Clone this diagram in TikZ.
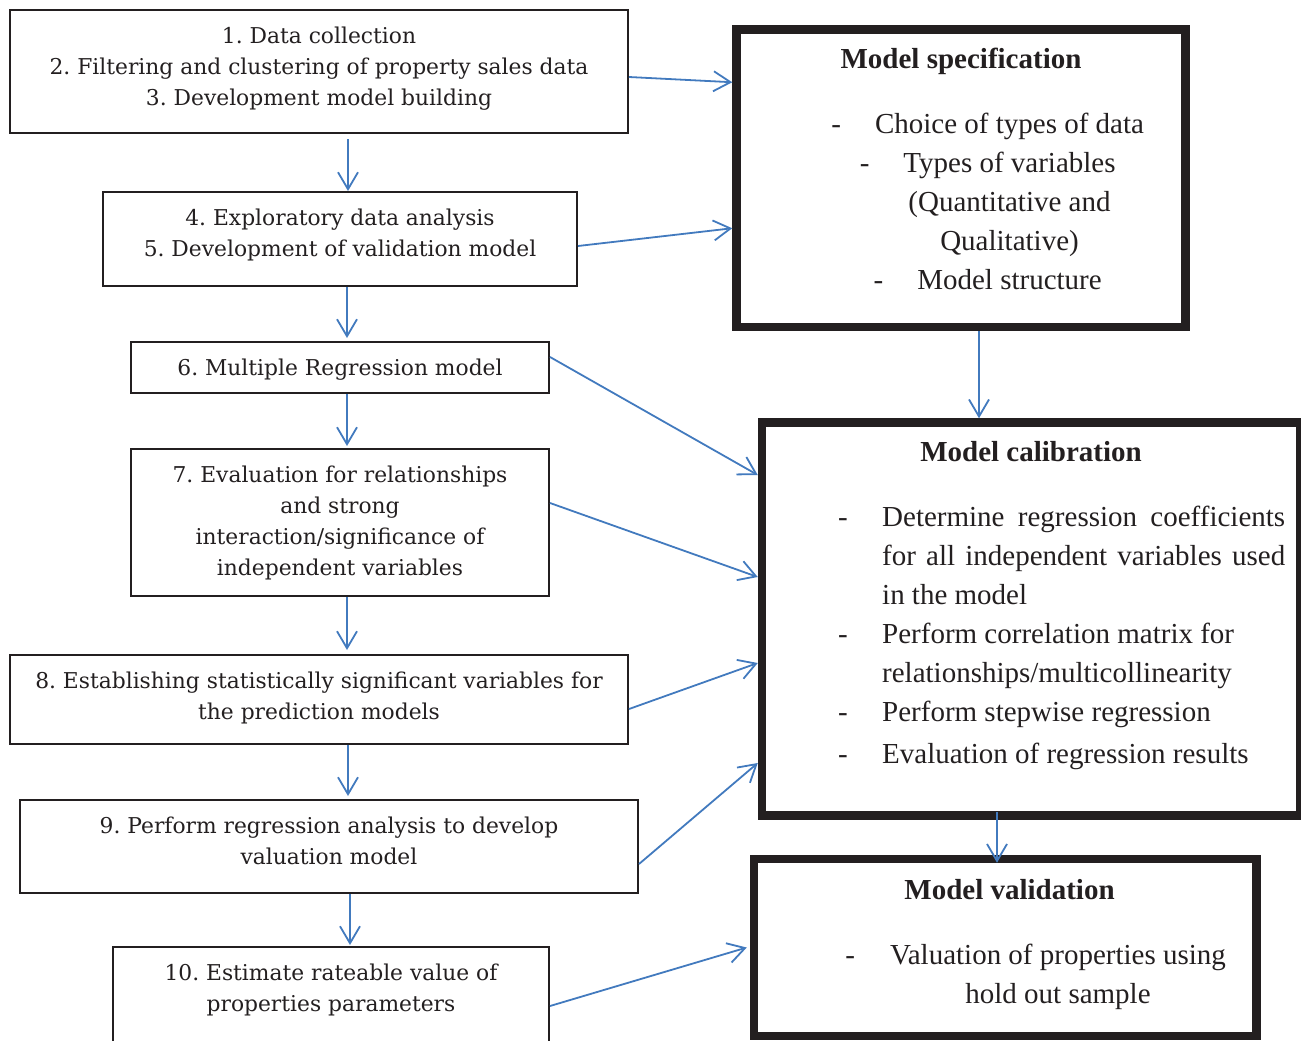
\documentclass[tikz,border=0pt]{standalone}
\usepackage{fontspec}
\newfontfamily\timesfont{Liberation Serif}
\newfontfamily\stepfont{DejaVu Serif}
\usetikzlibrary{arrows.meta}
\definecolor{flowblue}{RGB}{66,122,190}
\definecolor{inkblack}{RGB}{35,31,32}
\tikzset{
    stepframe/.style={
        rectangle, draw=inkblack, line width=2pt, inner sep=0pt
    },
    steptext/.style={
        anchor=north, align=center, inner xsep=0pt, inner ysep=18pt,
        text=inkblack, font=\stepfont\frenchspacing\fontsize{21.8}{31}\selectfont
    },
    model/.style={
        rectangle, draw=inkblack, line width=8.5pt, inner sep=0pt
    },
    modeltitle/.style={
        anchor=base, inner sep=0pt, text=inkblack,
        font=\timesfont\bfseries\fontsize{29}{39}\selectfont
    },
    modeltext/.style={
        inner sep=0pt, text=inkblack,
        font=\timesfont\fontsize{29}{39}\selectfont
    },
    mm/.style={
        -{Straight Barb[length=17pt, width=20pt]}, draw=flowblue, line width=1.8pt
    }
}

\begin{document}
\begin{tikzpicture}[x=1pt, y=-1pt]
        \useasboundingbox (0,0) rectangle (1301,1041);
        \clip (0,0) rectangle (1301,1041);

        % Process steps

        \node[stepframe, minimum width=618pt, minimum height=123pt] (b1) at (319,71.5)  {};
        \node[stepframe, minimum width=474pt, minimum height=94pt]  (b2) at (340,239)   {};
        \node[stepframe, minimum width=418pt, minimum height=51pt]  (b3) at (340,367.5) {};
        \node[stepframe, minimum width=418pt, minimum height=147pt] (b4) at (340,522.5) {};
        \node[stepframe, minimum width=618pt, minimum height=89pt]  (b5) at (319,699.5) {};
        \node[stepframe, minimum width=618pt, minimum height=93pt]  (b6) at (329,846.5) {};
        \node[stepframe, minimum width=436pt, minimum height=96pt]  (b7) at (331,995)   {};

        \node[steptext] (t1) at (b1.north) {1. Data collection\\2. Filtering and clustering of property sales data\\3. Development model building};
        \node[steptext] (t2) at (b2.north) {4. Exploratory data analysis\\5. Development of validation model};
        \node[steptext] (t3) at (b3.north) {6. Multiple Regression model};
        \node[steptext] (t4) at (b4.north) {7. Evaluation for relationships\\and strong\\interaction/significance of\\independent variables};
        \node[steptext] (t5) at (b5.north) {8. Establishing statistically significant variables for\\the prediction models};
        \node[steptext] (t6) at (b6.north) {9. Perform regression analysis to develop\\valuation model};
        \node[steptext] (t7) at (b7.north) {10. Estimate rateable value of\\properties parameters};

        \path ([xshift=29pt]b1.south) edge[mm, shorten <=5pt] ([xshift=8pt]b2.north)
                ([xshift=7pt]b2.south) edge[mm, shorten >=3pt] ([xshift=7pt]b3.north)
                ([xshift=7pt]b3.south) edge[mm, shorten >=2pt] ([xshift=7pt]b4.north)
                ([xshift=7pt]b4.south) edge[mm, shorten >=4pt] ([xshift=28pt]b5.north)
                ([xshift=29pt]b5.south) edge[mm, shorten >=3pt] ([xshift=19pt]b6.north)
                ([xshift=21pt]b6.south) edge[mm, shorten >=1pt] ([xshift=19pt]b7.north);

        % Model specification

        \node[model, minimum width=449pt, minimum height=297.5pt] (spec) at (961,178.25) {};
        \node[modeltitle] (spectitle) at (961,68.6) {Model specification};
        \node[modeltext, anchor=north, align=center] (specitems) at (1009.5,112.4)
            {\llap{-\hspace{34pt}}Choice of types of data\\\llap{-\hspace{34pt}}Types of variables\\(Quantitative and\\Qualitative)\\\llap{-\hspace{34pt}}Model structure};

        % Model calibration

        \node[model, minimum width=538pt, minimum height=393pt] (calib) at (1031,619) {};
        \node[modeltitle] (calibtitle) at (1031,461.6) {Model calibration};
        \node[modeltext, anchor=north west] (calibitems) at (838,499)
            {\hyphenpenalty=10000 \tolerance=9999
             \begin{tabular}{@{}p{44pt}@{}p{403pt}@{}}
             - & Determine regression coefficients\linebreak for all independent variables used\linebreak in the model\\
             - & Perform correlation matrix for\newline relationships/multicollinearity\\
             - & Perform stepwise regression\\[3pt]
             - & Evaluation of regression results
             \end{tabular}};

        % Model validation

        \node[model, minimum width=502.5pt, minimum height=177pt] (valid) at (1005.25,947.5) {};
        \node[modeltitle] (validtitle) at (1009.5,899.6) {Model validation};
        \node[modeltext, anchor=north, align=center] (validitems) at (1058,943.4)
            {\llap{-\hspace{35pt}}Valuation of properties using\\hold out sample};

        % Steps feeding the model stages

        \path ([yshift=-5.5pt]b1.east) edge[mm] ([yshift=96pt]spec.west)
                ([yshift=-7pt]b2.east) edge[mm] ([yshift=-50pt]spec.west)
                ([yshift=10.5pt]b3.east) edge[mm] ([yshift=144pt]calib.west)
                ([yshift=19.5pt]b4.east) edge[mm] ([yshift=42pt]calib.west)
                ([yshift=-9.5pt]b5.east) edge[mm] ([yshift=-44pt]calib.west)
                ([yshift=-17.5pt]b6.east) edge[mm] ([yshift=-144pt]calib.west)
                ([yshift=-11pt]b7.east) edge[mm] ([xshift=-3pt]valid.west);

        \path ([xshift=18pt]spec.south) edge[mm] ([xshift=-52pt]calib.north)
                ([xshift=-34pt, yshift=8pt]calib.south) edge[mm] ([xshift=-8.25pt, yshift=-8pt]valid.north);
\end{tikzpicture}
\end{document}
